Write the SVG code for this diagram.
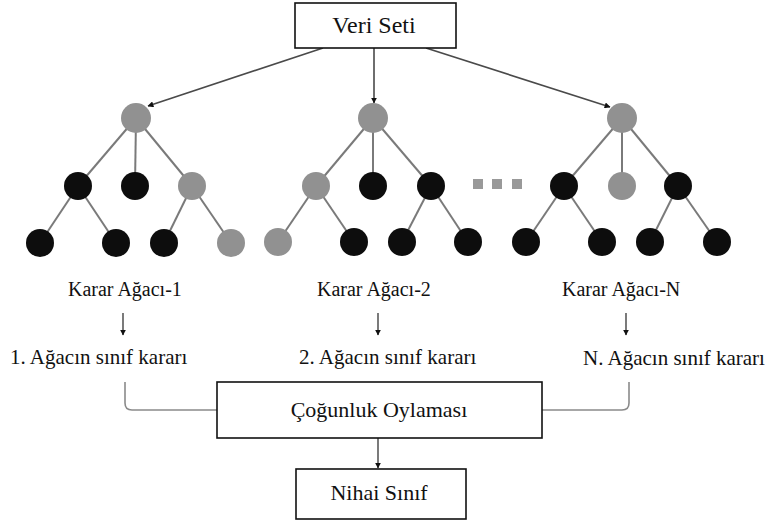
<svg xmlns="http://www.w3.org/2000/svg" width="767" height="524" viewBox="0 0 767 524">
  <style>
    .box { fill: #ffffff; stroke: #111111; stroke-width: 1.6; }
    .lbl { font-family: "Liberation Serif", "Times New Roman", serif; fill: #111111; }
    .edge { stroke: #7a7a7a; stroke-width: 2; fill: none; }
    .feed { stroke: #4a4a4a; stroke-width: 1.6; fill: none; marker-end: url(#head); }
    .step { stroke: #222222; stroke-width: 1.2; fill: none; marker-end: url(#small); }
    .brace { stroke: #8a8a8a; stroke-width: 1.6; fill: none; }
    .dark { fill: #0d0d0d; }
    .grey { fill: #919191; }
    .dot { fill: #999999; }
  </style>
  <defs>
    <marker id="head" viewBox="0 0 10 10" refX="9" refY="5" markerWidth="6" markerHeight="6" markerUnits="userSpaceOnUse" orient="auto">
      <path d="M0,0 L10,5 L0,10 z" fill="#111111"/>
    </marker>
    <marker id="small" viewBox="0 0 10 10" refX="9" refY="5" markerWidth="6" markerHeight="6" markerUnits="userSpaceOnUse" orient="auto">
      <path d="M0,0 L10,5 L0,10 z" fill="#111111"/>
    </marker>
  </defs>

  <!-- connectors -->
  <g id="connectors">
    <!-- dataset to tree roots -->
    <line class="feed" x1="323" y1="48" x2="148" y2="106"/>
    <line class="feed" x1="374" y1="48" x2="374" y2="103"/>
    <line class="feed" x1="426" y1="48" x2="610" y2="107"/>

    <!-- tree 1 edges -->
    <line class="edge" x1="136" y1="118" x2="78" y2="186"/>
    <line class="edge" x1="136" y1="118" x2="135" y2="186"/>
    <line class="edge" x1="136" y1="118" x2="192" y2="186"/>
    <line class="edge" x1="78" y1="186" x2="40" y2="243"/>
    <line class="edge" x1="78" y1="186" x2="116" y2="243"/>
    <line class="edge" x1="192" y1="186" x2="164" y2="243"/>
    <line class="edge" x1="192" y1="186" x2="231" y2="243"/>

    <!-- tree 2 edges -->
    <line class="edge" x1="373" y1="118" x2="316" y2="186"/>
    <line class="edge" x1="373" y1="118" x2="373" y2="186"/>
    <line class="edge" x1="373" y1="118" x2="431" y2="186"/>
    <line class="edge" x1="316" y1="186" x2="278" y2="242"/>
    <line class="edge" x1="316" y1="186" x2="354" y2="242"/>
    <line class="edge" x1="431" y1="186" x2="402" y2="242"/>
    <line class="edge" x1="431" y1="186" x2="468" y2="242"/>

    <!-- tree N edges -->
    <line class="edge" x1="622" y1="118" x2="564" y2="186"/>
    <line class="edge" x1="622" y1="118" x2="622" y2="186"/>
    <line class="edge" x1="622" y1="118" x2="678" y2="186"/>
    <line class="edge" x1="564" y1="186" x2="526" y2="242"/>
    <line class="edge" x1="564" y1="186" x2="602" y2="242"/>
    <line class="edge" x1="678" y1="186" x2="650" y2="242"/>
    <line class="edge" x1="678" y1="186" x2="717" y2="242"/>

    <!-- tree to decision -->
    <line class="step" x1="123" y1="313" x2="123" y2="335"/>
    <line class="step" x1="378" y1="313" x2="378" y2="335"/>
    <line class="step" x1="626" y1="313" x2="626" y2="335"/>

    <!-- decisions gathered into the vote -->
    <path class="brace" d="M125,382 V403 Q125,410 132,410 H217"/>
    <path class="brace" d="M629,382 V403 Q629,410 622,410 H542"/>

    <!-- vote to final class -->
    <line class="step" x1="378" y1="438" x2="378" y2="468"/>
  </g>

  <!-- dataset -->
  <g id="veri-seti">
    <rect class="box" x="295" y="3" width="161" height="45"/>
    <text class="lbl" x="374" y="33" font-size="24" text-anchor="middle">Veri Seti</text>
  </g>

  <!-- decision tree 1 -->
  <g id="agac-1">
    <circle class="grey" cx="136" cy="118" r="15"/>
    <circle class="dark" cx="78" cy="186" r="14"/>
    <circle class="dark" cx="135" cy="186" r="14"/>
    <circle class="grey" cx="192" cy="186" r="14"/>
    <circle class="dark" cx="40" cy="243" r="14"/>
    <circle class="dark" cx="116" cy="243" r="14"/>
    <circle class="dark" cx="164" cy="243" r="14"/>
    <circle class="grey" cx="231" cy="243" r="14"/>
    <text class="lbl" x="68" y="296" font-size="20">Karar Ağacı-1</text>
  </g>

  <!-- decision tree 2 -->
  <g id="agac-2">
    <circle class="grey" cx="373" cy="118" r="15"/>
    <circle class="grey" cx="316" cy="186" r="14"/>
    <circle class="dark" cx="373" cy="186" r="14"/>
    <circle class="dark" cx="431" cy="186" r="14"/>
    <circle class="grey" cx="278" cy="242" r="14"/>
    <circle class="dark" cx="354" cy="242" r="14"/>
    <circle class="dark" cx="402" cy="242" r="14"/>
    <circle class="dark" cx="468" cy="242" r="14"/>
    <text class="lbl" x="317" y="296" font-size="20">Karar Ağacı-2</text>
  </g>

  <!-- ellipsis between trees -->
  <g id="ara-agaclar">
    <rect class="dot" x="473" y="179" width="10" height="10"/>
    <rect class="dot" x="492" y="179" width="10" height="10"/>
    <rect class="dot" x="512" y="179" width="10" height="10"/>
  </g>

  <!-- decision tree N -->
  <g id="agac-n">
    <circle class="grey" cx="622" cy="118" r="15"/>
    <circle class="dark" cx="564" cy="186" r="14"/>
    <circle class="grey" cx="622" cy="186" r="14"/>
    <circle class="dark" cx="678" cy="186" r="14"/>
    <circle class="dark" cx="526" cy="242" r="14"/>
    <circle class="dark" cx="602" cy="242" r="14"/>
    <circle class="dark" cx="650" cy="242" r="14"/>
    <circle class="dark" cx="717" cy="242" r="14"/>
    <text class="lbl" x="562" y="296" font-size="20">Karar Ağacı-N</text>
  </g>

  <!-- per-tree class decisions -->
  <g id="karar-1">
    <text class="lbl" x="10" y="364" font-size="21">1. Ağacın sınıf kararı</text>
  </g>
  <g id="karar-2">
    <text class="lbl" x="299" y="364" font-size="21">2. Ağacın sınıf kararı</text>
  </g>
  <g id="karar-n">
    <text class="lbl" x="583" y="365" font-size="21">N. Ağacın sınıf kararı</text>
  </g>

  <!-- majority vote -->
  <g id="cogunluk-oylamasi">
    <rect class="box" x="217" y="382" width="325" height="56"/>
    <text class="lbl" x="379" y="417" font-size="22" text-anchor="middle">Çoğunluk Oylaması</text>
  </g>

  <!-- final class -->
  <g id="nihai-sinif">
    <rect class="box" x="296" y="469" width="170" height="50"/>
    <text class="lbl" x="379" y="500" font-size="22" text-anchor="middle">Nihai Sınıf</text>
  </g>
</svg>
